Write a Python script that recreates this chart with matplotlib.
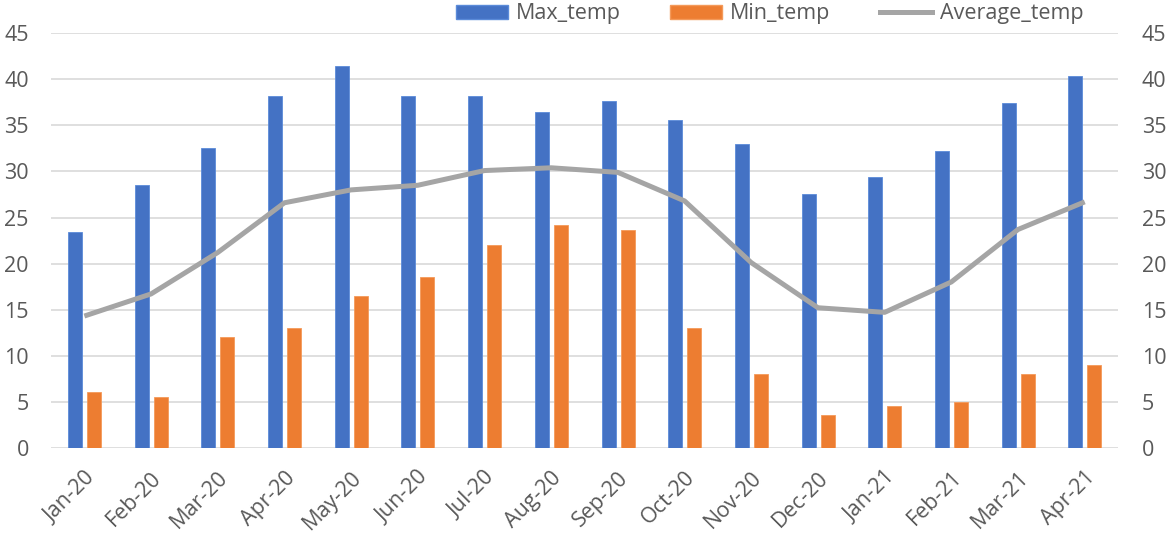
import numpy as np
import matplotlib.pyplot as plt
from matplotlib.patches import Patch
from matplotlib.lines import Line2D

plt.rcParams['font.family'] = ['Open Sans', 'DejaVu Sans']

months = ['Jan-20', 'Feb-20', 'Mar-20', 'Apr-20', 'May-20', 'Jun-20', 'Jul-20', 'Aug-20',
          'Sep-20', 'Oct-20', 'Nov-20', 'Dec-20', 'Jan-21', 'Feb-21', 'Mar-21', 'Apr-21']
max_temp = [23.4, 28.5, 32.5, 38.2, 41.4, 38.2, 38.2, 36.5, 37.6, 35.6, 33.0, 27.5, 29.4, 32.2, 37.4, 40.4]
min_temp = [6.0, 5.5, 12.0, 13.0, 16.5, 18.5, 22.0, 24.2, 23.6, 13.0, 8.0, 3.5, 4.5, 5.0, 8.0, 9.0]
avg_temp = [14.3, 16.7, 21.2, 26.6, 28.0, 28.5, 30.1, 30.4, 29.9, 26.8, 20.1, 15.2, 14.7, 18.0, 23.7, 26.7]

blue = '#4472C4'
orange = '#ED7D31'
gray = '#A5A5A5'
txt = '#595959'
fs = 15.5

fig = plt.figure(figsize=(11.7, 5.36), dpi=100)
ax = fig.add_axes([0.0436, 0.1647, 0.912, 0.7731])
x = np.arange(len(months))
w = 0.21
ax.bar(x - 0.14, max_temp, w, color=blue, edgecolor='#5B8BD9', linewidth=0.6, zorder=2)
ax.bar(x + 0.145, min_temp, w, color=orange, edgecolor='#F49A5A', linewidth=0.6, zorder=2)
ax.plot(x, avg_temp, color=gray, lw=3.6, zorder=3, solid_capstyle='butt')

ax.set_xlim(-0.5, len(months) - 0.5)
ax.set_ylim(0, 45)
ax.set_yticks(range(0, 46, 5))
ax.grid(axis='y', color='#D9D9D9', lw=1.2, zorder=0)
for s in ax.spines.values():
    s.set_visible(False)
ax.tick_params(axis='both', length=0, labelsize=fs, colors=txt)
ax.tick_params(axis='y', pad=16)
ax.set_xticks(x)
ax.set_xticklabels(months, rotation=45, ha='right', rotation_mode='anchor')
ax.tick_params(axis='x', pad=14)

ax2 = ax.twinx()
ax2.set_ylim(0, 45)
ax2.set_yticks(range(0, 46, 5))
for s in ax2.spines.values():
    s.set_visible(False)
ax2.tick_params(axis='y', length=0, labelsize=fs, colors=txt, pad=17)

handles = [Patch(facecolor=blue, edgecolor='#5B8BD9'),
           Patch(facecolor=orange, edgecolor='#F49A5A'),
           Line2D([0], [0], color=gray, lw=3.6)]
fig.legend(handles, ['Max_temp', 'Min_temp', 'Average_temp'], loc='center',
           bbox_to_anchor=(0.658, 0.974), ncol=3, frameon=False, fontsize=fs,
           labelcolor=txt, handlelength=2.4, handleheight=0.62, handletextpad=0.38,
           columnspacing=2.3, borderpad=0)

fig.savefig('out.png', dpi=100)
